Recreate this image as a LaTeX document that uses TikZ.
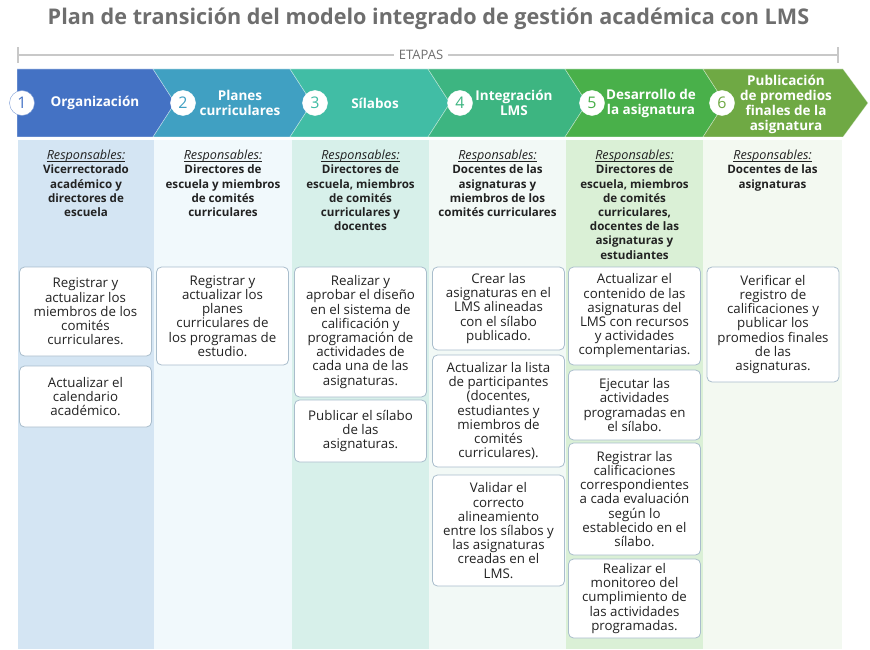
\documentclass[tikz,border=0pt]{standalone}
\usepackage{fontspec}
\setmainfont{Open Sans}
\usepackage{tikz}

\definecolor{etapa1}{HTML}{4472C4}
\definecolor{etapa2}{HTML}{40A0C2}
\definecolor{etapa3}{HTML}{41BDA5}
\definecolor{etapa4}{HTML}{3DB581}
\definecolor{etapa5}{HTML}{49B04A}
\definecolor{etapa6}{HTML}{6FA944}
\definecolor{fondo1}{HTML}{D4E5F3}
\definecolor{fondo2}{HTML}{F1F9FC}
\definecolor{fondo3}{HTML}{D7F0EA}
\definecolor{fondo4}{HTML}{F2F9F6}
\definecolor{fondo5}{HTML}{DAF0D6}
\definecolor{fondo6}{HTML}{F3F9F1}
\definecolor{grisTitulo}{HTML}{6E6E6E}
\definecolor{grisLinea}{HTML}{C8C8C8}
\definecolor{bordeCaja}{HTML}{A9BDCC}
\definecolor{textoCaja}{HTML}{222222}

\newcommand{\responsables}{{\fontsize{12.6}{14.2}\selectfont\mdseries\itshape
  \underline{\vphantom{R}\smash{Responsables:}}}}

\begin{document}
\begin{tikzpicture}[x=1pt, y=-1pt,
    chev/.style={draw=white, draw opacity=0.45, line width=0.6pt},
    etiqueta/.style={text=white, align=center, inner sep=0pt,
      font=\fontsize{13.5}{15}\selectfont\bfseries},
    numero/.style={circle, fill=white, draw=white, minimum size=25pt, inner sep=0pt,
      font=\fontsize{16}{16}\selectfont},
    resp/.style={anchor=north, align=center, inner sep=0pt, text=textoCaja,
      font=\fontsize{11.6}{14.2}\selectfont\bfseries},
    tarea/.style={draw=bordeCaja, fill=white, rounded corners=5pt, line width=0.8pt,
      minimum width=132pt, align=center, inner sep=1pt, text=textoCaja,
      font=\fontsize{13.3}{14.2}\selectfont},
  ]
  \useasboundingbox (0,0) rectangle (870,650);

  \node[font=\fontsize{21.6}{24}\selectfont\bfseries, text=grisTitulo] (titulo) at (428.5,19)
    {Plan de transición del modelo integrado de gestión académica con LMS};

  % linea de etapas
  \coordinate (eL) at (18,55);
  \coordinate (eR) at (838,55);
  \draw[grisLinea, line width=1.2pt] (eL) -- (eR);
  \draw[grisLinea, line width=1.2pt] ([yshift=-8pt]eL) -- ([yshift=8pt]eL);
  \draw[grisLinea, line width=1.2pt] ([yshift=-8pt]eR) -- ([yshift=8pt]eR);
  \node[fill=white, inner xsep=5pt, text=grisTitulo, font=\fontsize{13}{14}\selectfont] (etapas) at (421,55) {ETAPAS};

  % fondos de columnas
  \fill[fondo1] (18,140) rectangle (154,649);
  \fill[fondo2] (154,140) rectangle (292,649);
  \fill[fondo3] (292,140) rectangle (429,649);
  \fill[fondo4] (429,140) rectangle (566,649);
  \fill[fondo5] (566,140) rectangle (703,649);
  \fill[fondo6] (703,140) rectangle (842,649);

  % flechas
  \filldraw[chev, fill=etapa1] (17,69) -- (153,69) -- (175,103) -- (153,137) -- (17,137) -- cycle;
  \filldraw[chev, fill=etapa2] (153,69) -- (290,69) -- (312,103) -- (290,137) -- (153,137) -- (175,103) -- cycle;
  \filldraw[chev, fill=etapa3] (290,69) -- (428,69) -- (450,103) -- (428,137) -- (290,137) -- (312,103) -- cycle;
  \filldraw[chev, fill=etapa4] (428,69) -- (565,69) -- (587,103) -- (565,137) -- (428,137) -- (450,103) -- cycle;
  \filldraw[chev, fill=etapa5] (565,69) -- (703,69) -- (725,103) -- (703,137) -- (565,137) -- (587,103) -- cycle;
  \filldraw[chev, fill=etapa6] (703,69) -- (843,69) -- (868,103) -- (843,137) -- (703,137) -- (725,103) -- cycle;

  \node[numero, draw=etapa1!70, text=etapa1] (n1) at (22,103) {1};
  \node[numero, text=etapa2] (n2) at (183,103) {2};
  \node[numero, text=etapa3] (n3) at (315,103) {3};
  \node[numero, text=etapa4] (n4) at (460,103) {4};
  \node[numero, text=etapa5] (n5) at (592,103) {5};
  \node[numero, text=etapa6] (n6) at (722,103) {6};

  \node[etiqueta] (e1) at (95,103) {Organización};
  \node[etiqueta] (e2) at (240,103) {Planes\\curriculares};
  \node[etiqueta] (e3) at (375,103) {Sílabos};
  \node[etiqueta] (e4) at (514,103) {Integración\\LMS};
  \node[etiqueta] (e5) at (651,103) {Desarrollo de\\la asignatura};
  \node[etiqueta] (e6) at (786,104) {Publicación\\de promedios\\finales de la\\asignatura};

  % responsables
  \node[resp] (r1) at (86,150.5) {\responsables\\Vicerrectorado\\académico y\\directores de\\escuela};
  \node[resp] (r2) at (223,150.5) {\responsables\\Directores de\\escuela y miembros\\de comités\\curriculares};
  \node[resp] (r3) at (360.5,150.5) {\responsables\\Directores de\\escuela, miembros\\de comités\\curriculares y\\docentes};
  \node[resp] (r4) at (497.5,150.5) {\responsables\\Docentes de las\\asignaturas y\\miembros de los\\comités curriculares};
  \node[resp] (r5) at (634.5,150.5) {\responsables\\Directores de\\escuela, miembros\\de comités\\curriculares,\\docentes de las\\asignaturas y\\estudiantes};
  \node[resp] (r6) at (772.5,150.5) {\responsables\\Docentes de las\\asignaturas};

  % actividades
  \node[tarea, minimum height=89pt] (t11) at (85.5,311.5) {Registrar y\\actualizar los\\miembros de los\\comités\\curriculares.};
  \node[tarea, minimum height=61pt] (t12) at (85.5,396.5) {Actualizar el\\calendario\\académico.};

  \node[tarea, minimum height=98pt] (t21) at (222.5,316) {Registrar y\\actualizar los\\planes\\curriculares de\\los programas de\\estudio.};

  \node[tarea, minimum height=130pt] (t31) at (360.5,332) {Realizar y\\aprobar el diseño\\en el sistema de\\calificación y\\programación de\\actividades de\\cada una de las\\asignaturas.};
  \node[tarea, minimum height=62pt] (t32) at (360.5,431) {Publicar el sílabo\\de las\\asignaturas.};

  \node[tarea, minimum height=83pt] (t41) at (498.5,308.5) {Crear las\\asignaturas en el\\LMS alineadas\\con el sílabo\\publicado.};
  \node[tarea, minimum height=112pt] (t42) at (498.5,411) {Actualizar la lista\\de participantes\\(docentes,\\estudiantes y\\miembros de\\comités\\curriculares).};
  \node[tarea, minimum height=111pt] (t43) at (498.5,530.5) {Validar el\\correcto\\alineamiento\\entre los sílabos y\\las asignaturas\\creadas en el\\LMS.};

  \node[tarea, minimum height=98pt] (t51) at (634.5,316) {Actualizar el\\contenido de las\\asignaturas del\\LMS con recursos\\y actividades\\complementarias.};
  \node[tarea, minimum height=70pt] (t52) at (634.5,405) {Ejecutar las\\actividades\\programadas en\\el sílabo.};
  \node[tarea, minimum height=112pt] (t53) at (634.5,499) {Registrar las\\calificaciones\\correspondientes\\a cada evaluación\\según lo\\establecido en el\\sílabo.};
  \node[tarea, minimum height=79pt] (t54) at (634.5,598.5) {Realizar el\\monitoreo del\\cumplimiento de\\las actividades\\programadas.};

  \node[tarea, minimum height=115pt] (t61) at (773,324.5) {Verificar el\\registro de\\calificaciones y\\publicar los\\promedios finales\\de las\\asignaturas.};
\end{tikzpicture}
\end{document}
